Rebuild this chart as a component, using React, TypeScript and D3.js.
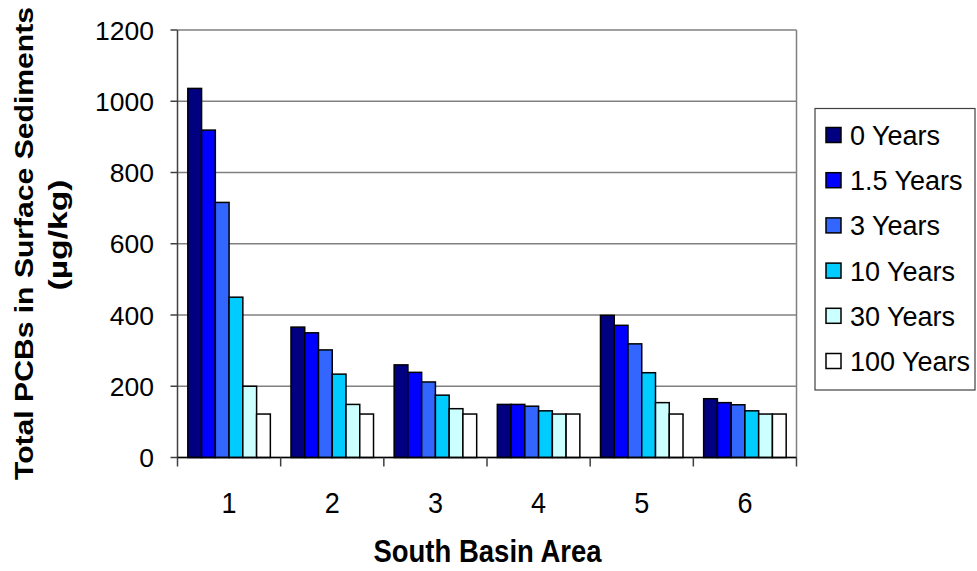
import React from "react";
import * as d3 from "d3";

const categories = ["1", "2", "3", "4", "5", "6"];
const seriesNames = ["0 Years", "1.5 Years", "3 Years", "10 Years", "30 Years", "100 Years"];
const seriesColors = ["#000080", "#0000FF", "#3366FF", "#00CCFF", "#CCFFFF", "#FFFFFF"];
const years0 = [1036, 366, 260, 149, 399, 165];
const years1_5 = [919, 350, 239, 149, 371, 154];
const years3 = [716, 302, 212, 144, 319, 148];
const years10 = [450, 234, 175, 131, 238, 131];
const years30 = [200, 149, 137, 122, 154, 122];
const years100 = [122, 122, 122, 122, 122, 122];
const seriesValues = [years0, years1_5, years3, years10, years30, years100];
const yTicks = [0, 200, 400, 600, 800, 1000, 1200];

const W = 977;
const H = 571;
const left = 177.5;
const right = 796.5;
const top = 30;
const bottom = 457.5;
const FONT = "Liberation Sans, Arial, sans-serif";

export default function App() {
  const x0 = d3.scaleBand<string>().domain(categories).range([left, right]).padding(0);
  const x1 = d3
    .scaleBand<string>()
    .domain(seriesNames)
    .range([0, x0.bandwidth()])
    .paddingInner(0)
    .paddingOuter(0.75);
  const y = d3.scaleLinear().domain([0, 1200]).range([bottom, top]);

  return (
    <svg
      width={W}
      height={H}
      style={{ position: "absolute", left: 0, top: 0, background: "#fff" }}
      fontFamily={FONT}
    >
      {/* gridlines */}
      {yTicks.map((t) => (
        <line key={"g" + t} x1={left} x2={right} y1={y(t)} y2={y(t)} stroke="#808080" strokeWidth={1.5} />
      ))}
      {/* right border */}
      <line x1={right} x2={right} y1={top} y2={bottom} stroke="#808080" strokeWidth={1.5} />

      {/* bars */}
      {seriesValues.map((vals, si) =>
        vals.map((v, ci) => (
          <rect
            key={si + "-" + ci}
            x={(x0(categories[ci]) as number) + (x1(seriesNames[si]) as number)}
            y={y(v)}
            width={x1.bandwidth()}
            height={bottom - y(v)}
            fill={seriesColors[si]}
            stroke="#000"
            strokeWidth={1.5}
          />
        ))
      )}

      {/* y axis */}
      <line x1={left} x2={left} y1={top} y2={bottom} stroke="#404040" strokeWidth={1.5} />
      {yTicks.map((t) => (
        <g key={"yt" + t}>
          <line x1={left - 7} x2={left} y1={y(t)} y2={y(t)} stroke="#404040" strokeWidth={1.5} />
          <text x={154} y={y(t)} dy="0.36em" textAnchor="end" fontSize={26.5} fill="#000">
            {t}
          </text>
        </g>
      ))}

      {/* x axis */}
      <line x1={left} x2={right} y1={bottom} y2={bottom} stroke="#000" strokeWidth={1.5} />
      {[...categories.map((c) => x0(c) as number), right].map((xv, i) => (
        <line key={"xt" + i} x1={xv} x2={xv} y1={bottom} y2={bottom + 9} stroke="#404040" strokeWidth={1.5} />
      ))}
      {categories.map((c) => (
        <text
          key={"xl" + c}
          x={(x0(c) as number) + x0.bandwidth() / 2}
          y={513}
          textAnchor="middle"
          fontSize={27}
          fill="#000"
          transform={`translate(0,${513}) scale(1,1.1) translate(0,${-513})`}
        >
          {c}
        </text>
      ))}

      {/* x title */}
      <text
        transform="translate(487.5,562) scale(1,1.12)"
        textAnchor="middle"
        fontSize={27.5}
        fontWeight="bold"
        fill="#000"
      >
        South Basin Area
      </text>

      {/* y title */}
      <text
        transform="translate(32.5,243.5) rotate(-90)"
        textAnchor="middle"
        fontSize={25.5}
        fontWeight="bold"
        fill="#000"
        textLength={473}
        lengthAdjust="spacingAndGlyphs"
      >
        Total PCBs in Surface Sediments
      </text>
      <text
        transform="translate(67,235) rotate(-90)"
        textAnchor="middle"
        fontSize={25.5}
        fontWeight="bold"
        fill="#000"
        textLength={111}
        lengthAdjust="spacingAndGlyphs"
      >
        (µg/kg)
      </text>

      {/* legend */}
      <rect x={815} y={108.5} width={160} height={281.5} fill="#fff" stroke="#404040" strokeWidth={1.2} />
      {seriesNames.map((s, i) => (
        <g key={"lg" + s}>
          <rect x={826} y={127.5 + i * 45.2} width={15} height={15} fill={seriesColors[i]} stroke="#000" strokeWidth={1.5} />
          <text x={850} y={145 + i * 45.2} fontSize={27} fill="#000">
            {s}
          </text>
        </g>
      ))}
    </svg>
  );
}
